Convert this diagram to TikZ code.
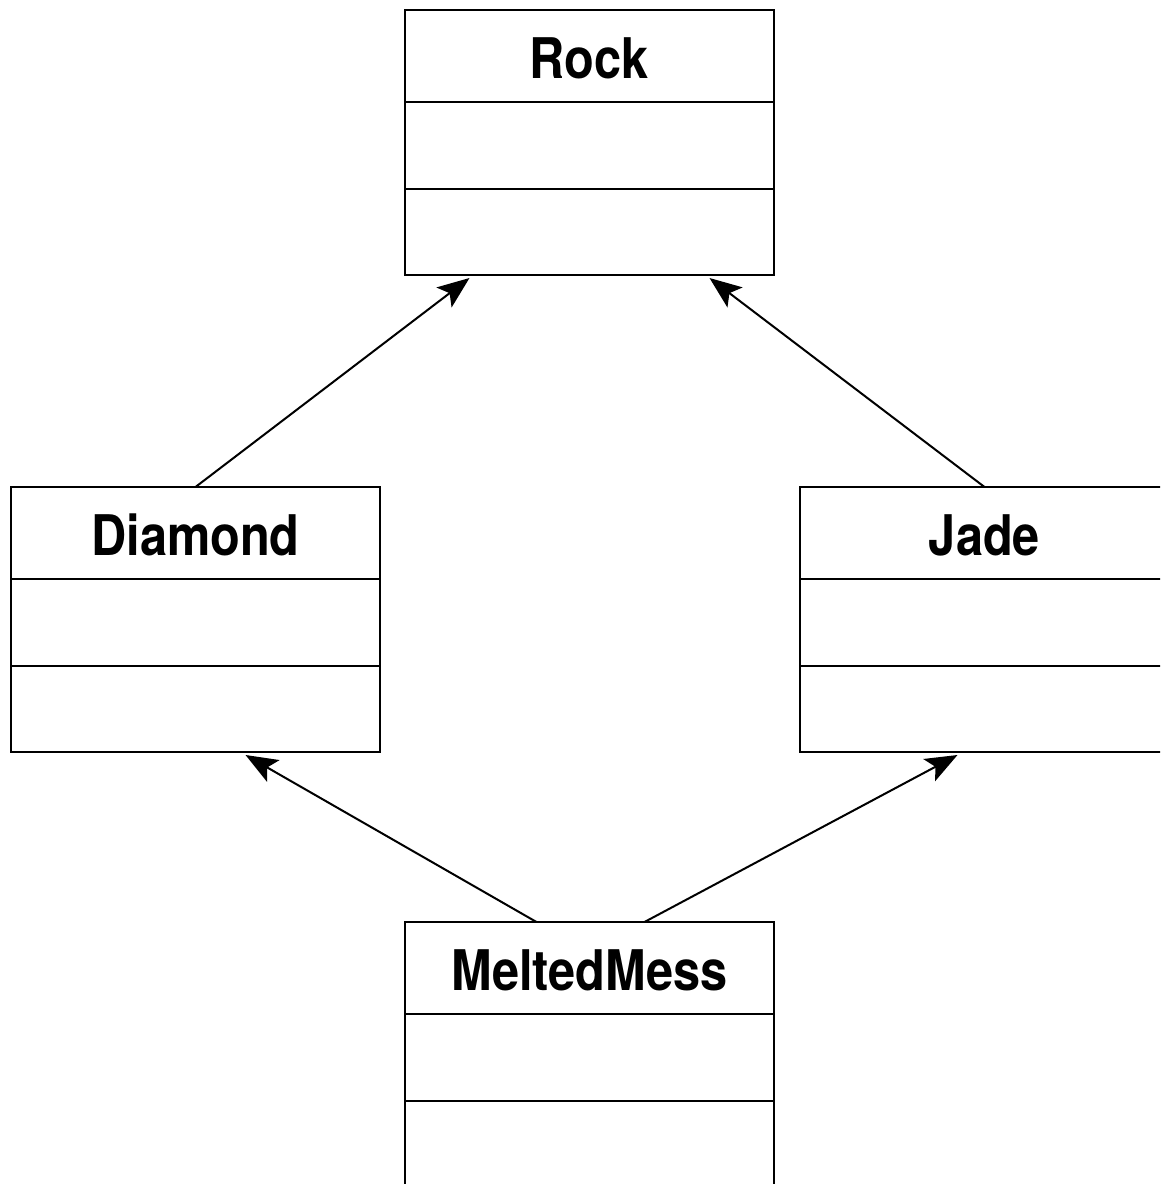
\documentclass[tikz,border=0pt]{standalone}
\usepackage{fontspec}
\setmainfont{TeX Gyre Heros}[FakeStretch=0.87]
\usepackage{tikz}
\usetikzlibrary{arrows.meta,positioning}
\tikzset{
    classBox/.style={
        draw,
        line width=2.6pt,
        inner sep=0pt,
        outer sep=0pt,
        text width=369pt,
        align=center,
        text height=68pt,
        text depth=197pt,
        font=\fontsize{56}{60}\selectfont\bfseries
    },
    classLine/.style={
        line width=2.6pt
    },
    inheritArrow/.style={
        -{Stealth[length=32pt,width=25pt,inset=7pt]},
        line width=2pt
    }
}
% compartment lines of a class box
\newcommand{\classSplit}[1]{%
    \draw[classLine] ([yshift=-92pt]#1.north west) -- ([yshift=-92pt]#1.north east);
    \draw[classLine] ([yshift=-179pt]#1.north west) -- ([yshift=-179pt]#1.north east);
}
\begin{document}
\begin{tikzpicture}[x=1pt,y=1pt]
        \useasboundingbox (0,0) rectangle (1160,-1184);
        \clip (0,0) rectangle (1160,-1184);

        \node[classBox] (rock) at (589.5,-142.5) {Rock};
        \node[classBox,below left=212pt and 25pt of rock] (diamond) {Diamond};
        \node[classBox,below right=212pt and 26pt of rock] (jade) {Jade};
        \node[classBox,below right=170pt and 25pt of diamond] (mess) {MeltedMess};

        \classSplit{rock}
        \classSplit{diamond}
        \classSplit{jade}
        \classSplit{mess}

        \draw[inheritArrow] (diamond.north) -- ([xshift=-120pt,yshift=-3pt]rock.south);
        \draw[inheritArrow] (jade.north) -- ([xshift=120pt,yshift=-3pt]rock.south);
        \draw[inheritArrow] ([xshift=-53pt]mess.north) -- ([xshift=50pt,yshift=-3pt]diamond.south);
        \draw[inheritArrow] ([xshift=55pt]mess.north) -- ([xshift=-27pt,yshift=-3pt]jade.south);
    \end{tikzpicture}
\end{document}
